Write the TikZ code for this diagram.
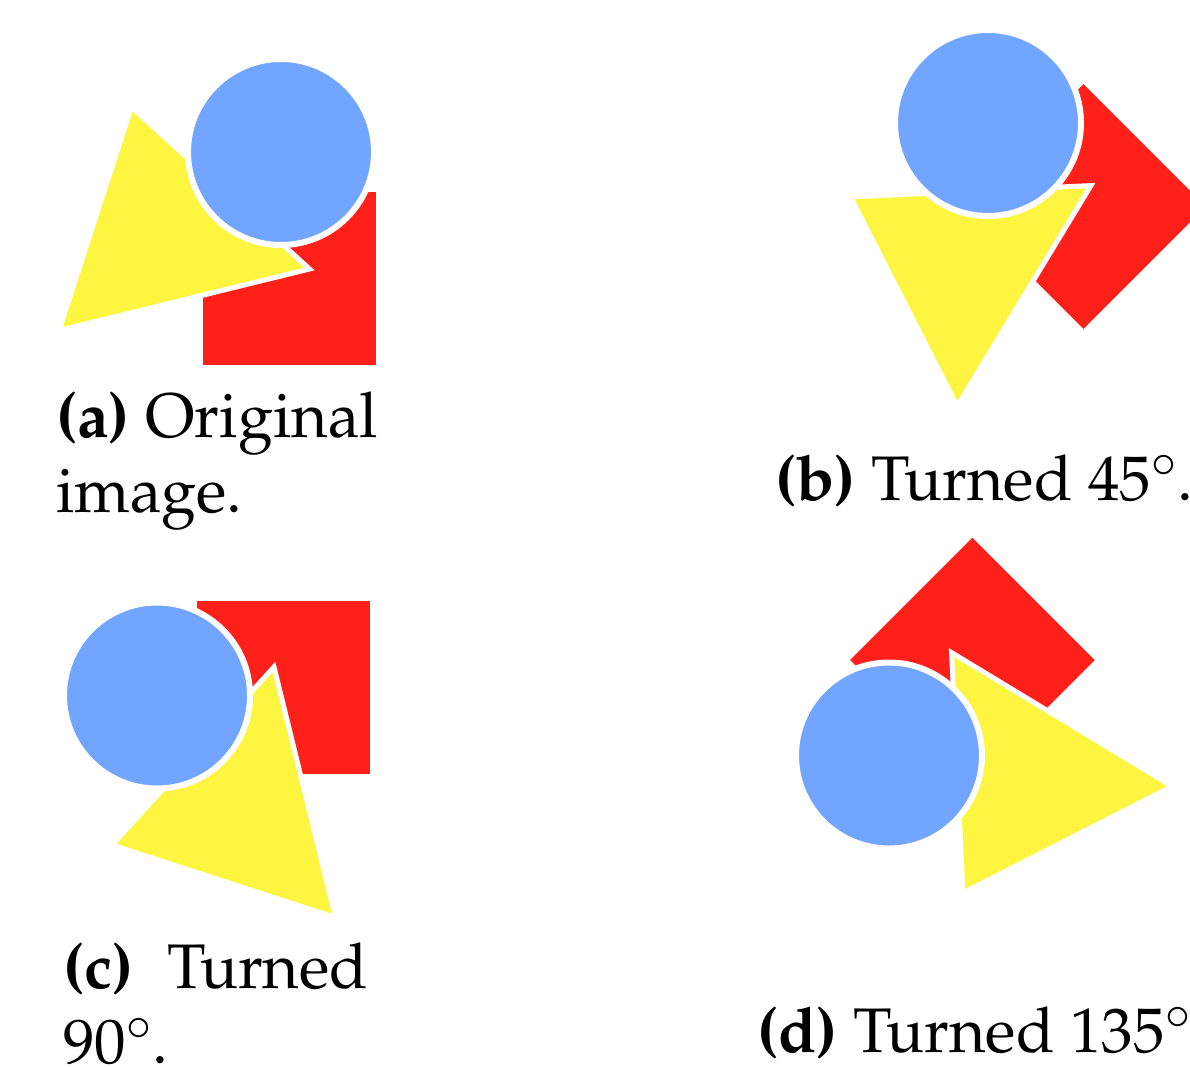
\documentclass[tikz,border=0pt]{standalone}
\usepackage[T1]{fontenc}
\usepackage{mathpazo}
\usetikzlibrary{positioning, calc}
\definecolor{shapered}{RGB}{255,32,26}
\definecolor{shapeyellow}{RGB}{253,245,64}
\definecolor{shapeblue}{RGB}{113,165,255}

\begin{document}
\begin{tikzpicture}[x=1pt, y=1pt,
		sqr/.style={fill=shapered},
		tri/.style={fill=shapeyellow, draw=white, line width=5pt, line join=miter},
		disc/.style={fill=shapeblue, draw=white, line width=6pt},
		capt/.style={inner sep=0pt, font=\fontsize{63}{75}\selectfont}]
			\useasboundingbox (0,0) rectangle (1190,-1066);
			\clip (0,0) rectangle (1190,-1066);
			% one set of shapes, turned about the centre of the circle
			\foreach \ang/\cx/\cy in {0/281/-152, 45/988/-123, 90/157/-695.5, 135/889/-755.5}{
				\begin{scope}[shift={(\cx,\cy)}, rotate=\ang]
					\path[sqr] (-78,-213) rectangle (95,-40);
					\path[tri] (-149.5,45) -- (-222,-178.5) -- (28.5,-117) -- cycle;
					\path[disc] (0,0) circle (93);
				\end{scope}
			}
			\node (capa) [capt, anchor=base west, align=left] at (56,-512)
				{\textbf{(a)} Original\\image.};
			\node (capb) [capt, anchor=base west] at (775,-500)
				{\textbf{(b)} Turned 45$^\circ$.};
			\node (capc) [capt, anchor=base west, text width=305pt, align=justify] at (63,-988)
				{\textbf{(c)} Turned\linebreak 90$^\circ$.};
			\node (capd) [capt, anchor=base west] at (757,-1052)
				{\textbf{(d)} Turned 135$^\circ$.};
		\end{tikzpicture}
\end{document}
